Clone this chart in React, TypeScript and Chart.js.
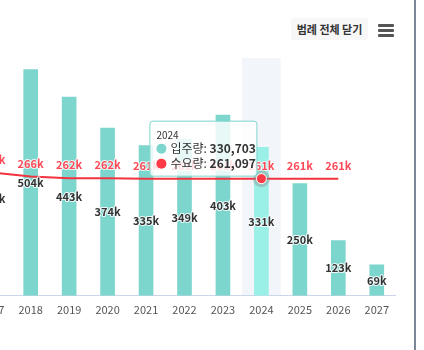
import React, { useEffect, useRef } from "react";
import { Chart, registerables } from "chart.js";

Chart.register(...registerables);

const years = ["2017", "2018", "2019", "2020", "2021", "2022", "2023", "2024", "2025", "2026", "2027"];
const supplyValues = [434000, 504000, 443000, 374000, 335000, 349000, 403000, 330703, 250000, 123000, 69000];
const demandValues: (number | null)[] = [275000, 266000, 262000, 262000, 261000, 261000, 261000, 261097, 261000, 261000, null];
const supplyName = "입주량";
const demandName = "수요량";
const activeIndex = 7;
const yMax = 530000;
const yGridStep = 200000;
const legendButtonText = "범례 전체 닫기";

const FONT = "'Noto Sans CJK KR', 'Noto Sans', sans-serif";
const TEAL = "#7dd6ce";
const TEAL_HOVER = "#9aefe7";
const RED_LINE = "#f2333f";
const RED_TEXT = "#ff4856";

const fmtK = (v: number) => Math.round(v / 1000) + "k";
const fmtFull = (v: number) => v.toLocaleString("en-US");

const overlayPlugin = {
  id: "overlay",
  beforeDraw(chart: any) {
    const { ctx, chartArea, scales } = chart;
    const x = scales.x;
    const cx = x.getPixelForValue(activeIndex);
    const w = (chartArea.right - chartArea.left) / years.length;
    ctx.save();
    ctx.fillStyle = "#f2f5fa";
    ctx.fillRect(cx - w / 2, chartArea.top, w, chartArea.bottom - chartArea.top);
    ctx.restore();
  },
  afterDatasetsDraw(chart: any) {
    const { ctx, scales } = chart;
    const x = scales.x;
    const y = scales.y;
    ctx.save();
    ctx.textAlign = "center";
    ctx.textBaseline = "middle";
    ctx.lineJoin = "round";
    ctx.font = `bold 11px ${FONT}`;
    supplyValues.forEach((v, i) => {
      const px = x.getPixelForValue(i);
      const py = (y.getPixelForValue(v) + y.getPixelForValue(0)) / 2;
      ctx.lineWidth = 2;
      ctx.strokeStyle = "rgba(255,255,255,0.85)";
      ctx.strokeText(fmtK(v), px, py);
      ctx.fillStyle = "#333";
      ctx.fillText(fmtK(v), px, py);
    });
    demandValues.forEach((v, i) => {
      if (v == null) return;
      const px = x.getPixelForValue(i);
      const py = y.getPixelForValue(v) - 13;
      ctx.lineWidth = 2;
      ctx.strokeStyle = "rgba(255,255,255,0.8)";
      ctx.strokeText(fmtK(v), px, py);
      ctx.fillStyle = RED_TEXT;
      ctx.fillText(fmtK(v), px, py);
    });
    const av = demandValues[activeIndex] as number;
    const apx = x.getPixelForValue(activeIndex);
    const apy = y.getPixelForValue(av);
    ctx.beginPath();
    ctx.arc(apx, apy, 8.5, 0, Math.PI * 2);
    ctx.fillStyle = "rgba(140,140,140,0.4)";
    ctx.fill();
    ctx.beginPath();
    ctx.arc(apx, apy, 5, 0, Math.PI * 2);
    ctx.fillStyle = "#ff3a47";
    ctx.fill();
    ctx.lineWidth = 1;
    ctx.strokeStyle = "#ffffff";
    ctx.stroke();

    const tipW = 107;
    const tipH = 55;
    const left = apx - 5 - tipW;
    const top = apy - 3 - tipH;
    ctx.beginPath();
    ctx.roundRect(left + 0.5, top + 0.5, tipW, tipH, 3);
    ctx.fillStyle = "rgba(255,255,255,0.82)";
    ctx.fill();
    ctx.lineWidth = 1;
    ctx.strokeStyle = TEAL;
    ctx.stroke();

    ctx.textAlign = "left";
    ctx.fillStyle = "#333";
    ctx.font = `10px ${FONT}`;
    ctx.fillText(years[activeIndex], left + 7, top + 15);

    const rows = [
      { color: TEAL, name: supplyName, value: supplyValues[activeIndex] },
      { color: "#ff3a47", name: demandName, value: av },
    ];
    rows.forEach((r, k) => {
      const ry = top + 28 + k * 15;
      ctx.beginPath();
      ctx.arc(left + 12, ry, 5, 0, Math.PI * 2);
      ctx.fillStyle = r.color;
      ctx.fill();
      ctx.fillStyle = "#333";
      ctx.font = `12px ${FONT}`;
      const head = r.name + ": ";
      ctx.fillText(head, left + 21, ry);
      const hw = ctx.measureText(head).width;
      ctx.font = `bold 12px ${FONT}`;
      ctx.fillText(fmtFull(r.value), left + 21 + hw, ry);
    });
    ctx.restore();
  },
};

export default function App() {
  const ref = useRef<HTMLCanvasElement>(null);
  useEffect(() => {
    Chart.defaults.font.family = FONT;
    const chart = new Chart(ref.current as HTMLCanvasElement, {
      type: "bar",
      data: {
        labels: years,
        datasets: [
          {
            type: "line",
            label: demandName,
            data: demandValues,
            borderColor: RED_LINE,
            borderWidth: 2,
            pointRadius: 0,
            pointHoverRadius: 0,
            fill: false,
            order: 0,
          } as any,
          {
            type: "bar",
            label: supplyName,
            data: supplyValues,
            backgroundColor: supplyValues.map((_, i) => (i === activeIndex ? TEAL_HOVER : TEAL)),
            barThickness: 14,
            borderWidth: 0,
            order: 1,
          },
        ],
      },
      options: {
        animation: false,
        responsive: true,
        maintainAspectRatio: false,
        events: [],
        layout: { padding: { top: 58, bottom: 27, left: 0, right: 0 } },
        plugins: {
          legend: { display: false },
          tooltip: { enabled: false },
        },
        scales: {
          x: {
            offset: true,
            grid: { display: false, drawTicks: false },
            border: { display: true, color: "#ccd6eb", width: 1 },
            ticks: { color: "#555", font: { size: 11, family: FONT }, padding: 7, maxRotation: 0, autoSkip: false },
          },
          y: {
            min: 0,
            max: yMax,
            ticks: { display: false, stepSize: yGridStep },
            border: { display: false },
            grid: {
              drawTicks: false,
              color: (c: any) =>
                c.tick && c.tick.value > 0 && c.tick.value % yGridStep === 0 ? "#e6e6e6" : "rgba(0,0,0,0)",
            },
          },
        },
      },
      plugins: [overlayPlugin],
    });
    return () => chart.destroy();
  }, []);

  return (
    <div
      style={{
        position: "fixed",
        left: 0,
        top: 0,
        width: 424,
        height: 350,
        overflow: "hidden",
        background: "#fff",
        fontFamily: FONT,
      }}
    >
      <div style={{ position: "absolute", left: -27, top: 0, width: 423, height: 350 }}>
        <canvas ref={ref} />
      </div>
      <div
        style={{
          position: "absolute",
          left: 291,
          top: 18,
          width: 77,
          height: 22,
          background: "#f7f7f7",
          borderRadius: 3,
          fontSize: 11,
          fontWeight: 700,
          color: "#333",
          display: "flex",
          alignItems: "center",
          justifyContent: "center",
          whiteSpace: "nowrap",
        }}
      >
        {legendButtonText}
      </div>
      {[24, 29, 34].map((t) => (
        <div
          key={t}
          style={{ position: "absolute", left: 378, top: t, width: 16, height: 3, borderRadius: 1, background: "#555" }}
        />
      ))}
      <div style={{ position: "absolute", left: 414, top: 0, width: 2, height: 350, background: "#7b8797" }} />
    </div>
  );
}
